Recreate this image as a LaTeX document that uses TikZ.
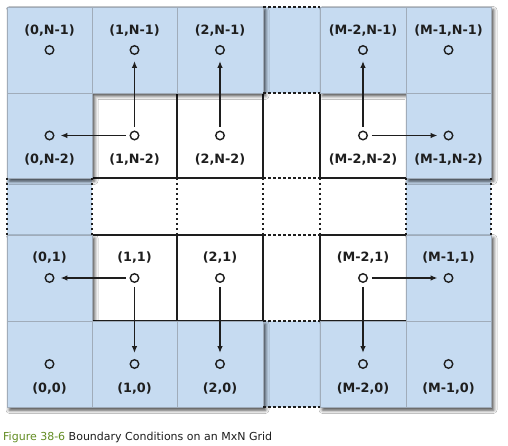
\documentclass[tikz,border=0pt]{standalone}
\usepackage{fontspec}
\setmainfont{DejaVu Sans}
\usetikzlibrary{shadows.blur,arrows.meta}
\definecolor{cellblue}{RGB}{198,219,241}
\definecolor{cellgray}{RGB}{160,172,186}
\definecolor{figgreen}{RGB}{98,140,34}
\definecolor{ink}{RGB}{30,30,30}
\tikzset{
 pt/.style={circle,draw=ink,line width=1.4pt,minimum size=8.5pt,inner sep=0pt},
 lbl/.style={font=\fontsize{12.8}{15}\selectfont\bfseries,inner sep=0pt,text=ink},
 conn/.style={draw=ink,line width=1.5pt,-{Latex[length=7pt,width=5.5pt]},shorten <=4pt,shorten >=6pt},
 bluecell/.style={draw=cellgray,line width=0.8pt},
 gapcell/.style={fill=cellblue},
 shadowL/.style={fill=cellblue,blur shadow={shadow xshift=2.5pt,shadow yshift=-3pt,shadow blur radius=3.5pt,shadow opacity=75}},
 wall/.style={line width=1.5pt,draw=ink},
 gapline/.style={line width=1.4pt,dash pattern=on 2.5pt off 2.5pt,draw=ink},
}
\begin{document}
\begin{tikzpicture}[x=1pt,y=-1pt]
\useasboundingbox[fill=white] (0,0) rectangle (508,446);
% gap cells (blue, no shadow)
\fill[gapcell] (263,7) rectangle (320,93);
\fill[gapcell] (263,321) rectangle (320,407);
\fill[gapcell] (7,178) rectangle (92,235);
\fill[gapcell] (406,178) rectangle (491,235);
\draw[cellgray,line width=0.8pt] (7,235) -- (92,235) (406,235) -- (491,235);
% interior walls
\foreach \yy in {93,178,235,321} {
  \draw[wall] (92,\yy) -- (263,\yy);
  \draw[wall] (320,\yy) -- (406,\yy);
}
\foreach \xx in {177,263,320} {
  \draw[wall] (\xx,93) -- (\xx,178);
  \draw[wall] (\xx,235) -- (\xx,321);
}
% solid boundary blocks with shadows
\path[shadowL] (7,7) -- (263,7) -- (263,93) -- (92,93) -- (92,178) -- (7,178) -- cycle;
\path[shadowL] (320,7) -- (491,7) -- (491,178) -- (406,178) -- (406,93) -- (320,93) -- cycle;
\path[shadowL] (7,235) -- (92,235) -- (92,321) -- (263,321) -- (263,407) -- (7,407) -- cycle;
\path[shadowL] (406,235) -- (491,235) -- (491,407) -- (320,407) -- (320,321) -- (406,321) -- cycle;
% cell borders of boundary cells
\draw[bluecell] (7,7) rectangle (92,93);
\draw[bluecell] (92,7) rectangle (177,93);
\draw[bluecell] (177,7) rectangle (263,93);
\draw[bluecell] (7,93) rectangle (92,178);
\draw[bluecell] (320,7) rectangle (406,93);
\draw[bluecell] (406,7) rectangle (491,93);
\draw[bluecell] (406,93) rectangle (491,178);
\draw[bluecell] (7,235) rectangle (92,321);
\draw[bluecell] (7,321) rectangle (92,407);
\draw[bluecell] (92,321) rectangle (177,407);
\draw[bluecell] (177,321) rectangle (263,407);
\draw[bluecell] (406,235) rectangle (491,321);
\draw[bluecell] (320,321) rectangle (406,407);
\draw[bluecell] (406,321) rectangle (491,407);
% dashed gap lines
\foreach \xx in {7,92,177,263,320,406,491} { \draw[gapline] (\xx,178) -- (\xx,235); }
\foreach \yy in {7,93,178,235,321,407} { \draw[gapline] (263,\yy) -- (320,\yy); }
% points
\node[pt] (p0t) at (49.5,50) {};
\node[pt] (p1t) at (134.5,50) {};
\node[pt] (p2t) at (220,50) {};
\node[pt] (pMt) at (363,50) {};
\node[pt] (pNt) at (448.5,50) {};
\node[pt] (p0s) at (49.5,135.5) {};
\node[pt] (p1s) at (134.5,135.5) {};
\node[pt] (p2s) at (220,135.5) {};
\node[pt] (pMs) at (363,135.5) {};
\node[pt] (pNs) at (448.5,135.5) {};
\node[pt] (p0o) at (49.5,278) {};
\node[pt] (p1o) at (134.5,278) {};
\node[pt] (p2o) at (220,278) {};
\node[pt] (pMo) at (363,278) {};
\node[pt] (pNo) at (448.5,278) {};
\node[pt] (p0z) at (49.5,364) {};
\node[pt] (p1z) at (134.5,364) {};
\node[pt] (p2z) at (220,364) {};
\node[pt] (pMz) at (363,364) {};
\node[pt] (pNz) at (448.5,364) {};
% labels
\node[lbl] (l0t) at (49.5,31) {(0,N-1)};
\node[lbl] (l1t) at (134.5,31) {(1,N-1)};
\node[lbl] (l2t) at (220,31) {(2,N-1)};
\node[lbl] (lMt) at (363,31) {(M-2,N-1)};
\node[lbl] (lNt) at (448.5,31) {(M-1,N-1)};
\node[lbl] (l0s) at (49.5,160) {(0,N-2)};
\node[lbl] (l1s) at (134.5,160) {(1,N-2)};
\node[lbl] (l2s) at (220,160) {(2,N-2)};
\node[lbl] (lMs) at (363,160) {(M-2,N-2)};
\node[lbl] (lNs) at (448.5,160) {(M-1,N-2)};
\node[lbl] (l0o) at (49.5,258) {(0,1)};
\node[lbl] (l1o) at (134.5,258) {(1,1)};
\node[lbl] (l2o) at (220,258) {(2,1)};
\node[lbl] (lMo) at (363,258) {(M-2,1)};
\node[lbl] (lNo) at (448.5,258) {(M-1,1)};
\node[lbl] (l0z) at (49.5,388.5) {(0,0)};
\node[lbl] (l1z) at (134.5,388.5) {(1,0)};
\node[lbl] (l2z) at (220,388.5) {(2,0)};
\node[lbl] (lMz) at (363,388.5) {(M-2,0)};
\node[lbl] (lNz) at (448.5,388.5) {(M-1,0)};
% arrows
\draw[conn] (p1s) -- (p1t);
\draw[conn] (p1s) -- (p0s);
\draw[conn] (p2s) -- (p2t);
\draw[conn] (pMs) -- (pMt);
\draw[conn] (pMs) -- (pNs);
\draw[conn] (p1o) -- (p0o);
\draw[conn] (p1o) -- (p1z);
\draw[conn] (p2o) -- (p2z);
\draw[conn] (pMo) -- (pNo);
\draw[conn] (pMo) -- (pMz);
% caption
\node[anchor=base west,inner sep=0pt,font=\fontsize{11}{13}\selectfont,text=ink] (cap) at (3,440.5) {\textcolor{figgreen}{Figure 38-6} Boundary Conditions on an MxN Grid};
\end{tikzpicture}
\end{document}
